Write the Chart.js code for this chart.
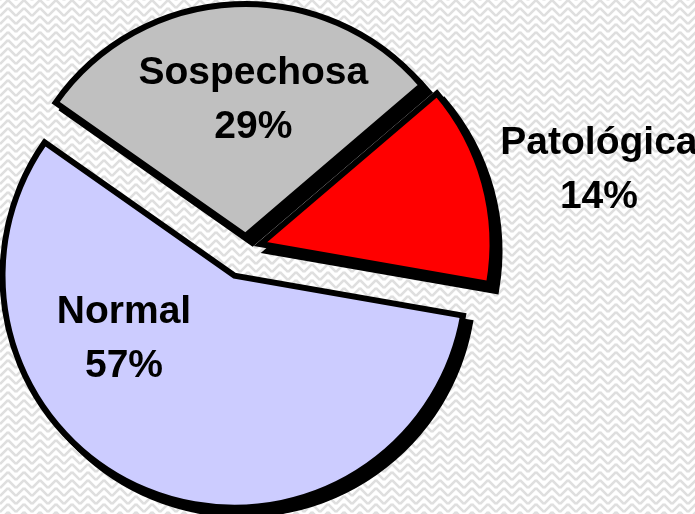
<!DOCTYPE html>
<html>
<head>
<meta charset="utf-8">
<script src="https://cdn.jsdelivr.net/npm/chart.js@4.4.0/dist/chart.umd.min.js"></script>
<style>
  html, body { margin: 0; padding: 0; background: #fff; overflow: hidden; }
</style>
</head>
<body>
<canvas id="grafico-pastel" width="695" height="514"></canvas>
<script>
// --- Datos del gráfico ---
const categorias = ['Patológica', 'Normal', 'Sospechosa'];
const porcentajes = [14, 57, 29];
const colores = ['#ff0000', '#ccccff', '#c0c0c0'];

// separacion de cada porcion (px, a lo largo de su bisectriz)
const separacion = [15, 30, 12];

// posicion de cada etiqueta: fraccion del radio y giro (grados) respecto al centro de la porcion
const posEtiquetas = [
    { r: 1.56, giro: 2.5 },
    { r: 0.65, giro: 31.5 },
    { r: 0.65, giro: 5.5 }
];

// --- Fondo con trama en espiga ---
function crearTrama(ctx) {
    const c = document.createElement('canvas');
    c.width = 16; c.height = 16;
    const t = c.getContext('2d');
    t.fillStyle = '#ffffff';
    t.fillRect(0, 0, 16, 16);
    t.strokeStyle = '#dfdfdf';
    t.lineWidth = 2.5;
    t.beginPath();
    for (let k = -16; k <= 32; k += 8) {
        t.moveTo(0, k + 8); t.lineTo(8, k);
        t.moveTo(8, k); t.lineTo(16, k + 8);
    }
    t.stroke();
    return ctx.createPattern(c, 'repeat');
}

const fondoPlugin = {
    id: 'fondo',
    beforeDraw(chart) {
        const ctx = chart.ctx;
        ctx.save();
        ctx.fillStyle = crearTrama(ctx);
        ctx.fillRect(0, 0, chart.width, chart.height);
        ctx.restore();
    }
};

// separa las porciones del centro
const separarPlugin = {
    id: 'separar',
    afterDatasetsUpdate(chart) {
        const meta = chart.getDatasetMeta(0);
        meta.data.forEach((el, i) => {
            const medio = (el.startAngle + el.endAngle) / 2;
            el.x += Math.cos(medio) * separacion[i];
            el.y += Math.sin(medio) * separacion[i];
        });
    }
};

// sombra negra desplazada bajo cada porcion
const sombraPlugin = {
    id: 'sombra',
    beforeDatasetsDraw(chart) {
        const ctx = chart.ctx;
        const meta = chart.getDatasetMeta(0);
        ctx.save();
        ctx.translate(7, 7);
        meta.data.forEach(el => {
            const original = el.options;
            el.options = Object.assign({}, original, { backgroundColor: '#000', borderColor: '#000' });
            el.draw(ctx);
            el.options = original;
        });
        ctx.restore();
    }
};

// etiquetas: nombre y porcentaje
const etiquetasPlugin = {
    id: 'etiquetas',
    afterDatasetsDraw(chart) {
        const ctx = chart.ctx;
        const meta = chart.getDatasetMeta(0);
        const cx = (chart.chartArea.left + chart.chartArea.right) / 2;
        const cy = (chart.chartArea.top + chart.chartArea.bottom) / 2;
        ctx.save();
        ctx.font = 'bold 39px "Liberation Sans", Arial, sans-serif';
        ctx.fillStyle = '#000';
        ctx.textAlign = 'center';
        ctx.textBaseline = 'alphabetic';
        meta.data.forEach((el, i) => {
            const p = posEtiquetas[i];
            const medio = (el.startAngle + el.endAngle) / 2 + p.giro * Math.PI / 180;
            const x = cx + Math.cos(medio) * el.outerRadius * p.r;
            const y = cy + Math.sin(medio) * el.outerRadius * p.r;
            ctx.fillText(categorias[i], x, y - 13.5);
            ctx.fillText(porcentajes[i] + '%', x, y + 40.5);
        });
        ctx.restore();
    }
};

const ctxPastel = document.getElementById('grafico-pastel').getContext('2d');
const graficoPastel = new Chart(ctxPastel, {
    type: 'pie',
    data: {
        labels: categorias,
        datasets: [{
            data: porcentajes,
            backgroundColor: colores,
            borderColor: '#000',
            borderWidth: 6,
            borderJoinStyle: 'miter',
            clip: false
        }]
    },
    options: {
        responsive: false,
        animation: false,
        events: [],
        rotation: 49.5,
        radius: 232,
        layout: { padding: { left: 0, right: 203, top: 0, bottom: 18 } },
        plugins: {
            legend: { display: false },
            tooltip: { enabled: false }
        }
    },
    plugins: [fondoPlugin, separarPlugin, sombraPlugin, etiquetasPlugin]
});
</script>
</body>
</html>
